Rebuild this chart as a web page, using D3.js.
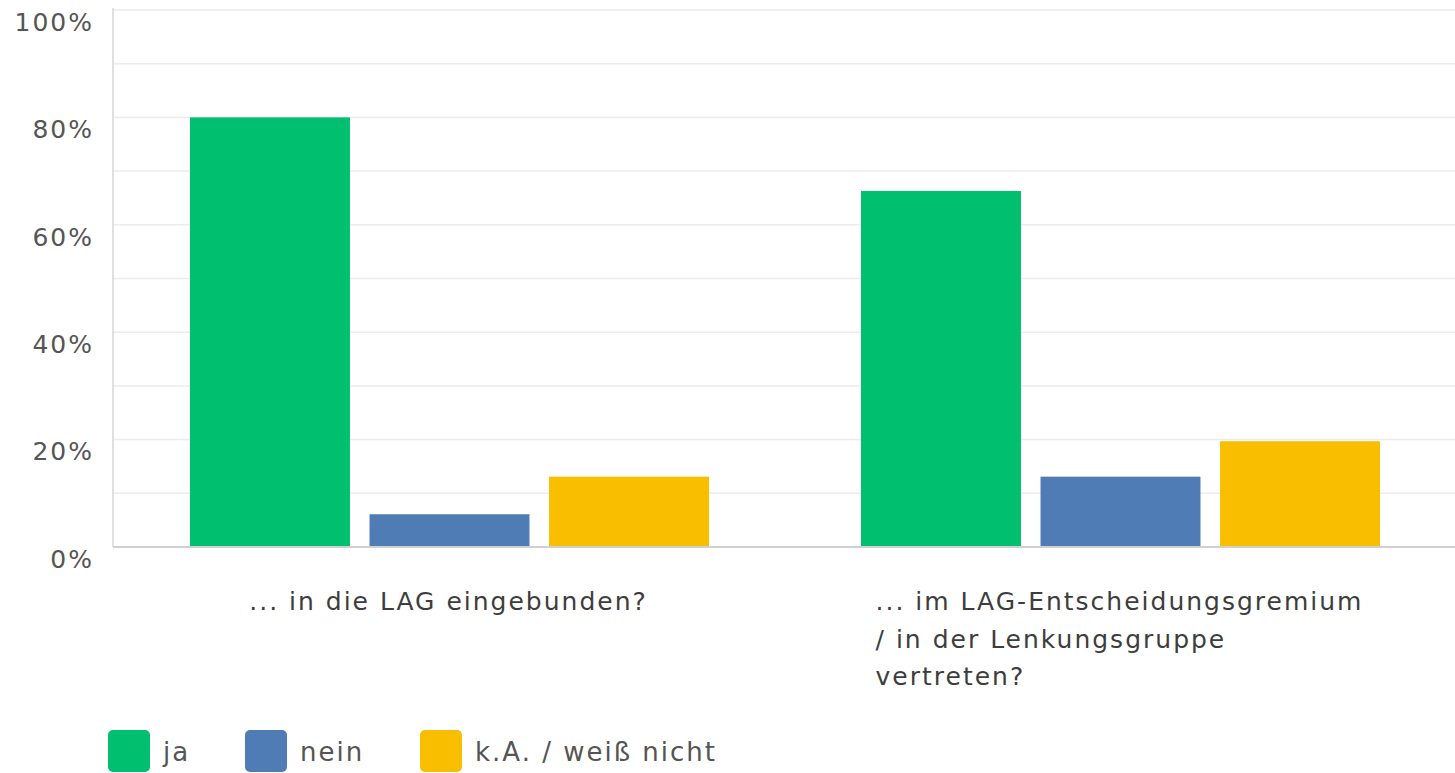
<!DOCTYPE html>
<html lang="de">
<head>
<meta charset="utf-8">
<title>LAG</title>
<script src="https://cdn.jsdelivr.net/npm/d3@7"></script>
<style>
  body { margin: 0; background: #fff; }
  text { font-family: "DejaVu Sans", sans-serif; letter-spacing: 2px; }
</style>
</head>
<body>
<svg width="1455" height="773"></svg>
<script>
var categories = [
  ["... in die LAG eingebunden?"],
  ["... im LAG-Entscheidungsgremium", "/ in der Lenkungsgruppe", "vertreten?"]
];
var series = ["ja", "nein", "k.A. / weiß nicht"];
var colors = ["#00bf6f", "#507cb6", "#f9be00"];
var ja = [80, 66.3];
var nein = [6.1, 13.1];
var ka = [13.1, 19.7];
var yTicks = [0, 20, 40, 60, 80, 100];

var values = [ja, nein, ka];
var svg = d3.select("svg"),
    margin = {top: 10, right: 0, bottom: 226, left: 113},
    width = +svg.attr("width") - margin.left - margin.right,
    height = +svg.attr("height") - margin.top - margin.bottom;

var x0 = d3.scaleBand().domain(d3.range(categories.length)).range([margin.left, margin.left + width]);
var x1 = d3.scaleBand().domain(d3.range(series.length)).range([77, 596]).paddingInner(0.109);
var y = d3.scaleLinear().domain([0, 100]).range([margin.top + height, margin.top]);

// grid every 10%
svg.append("g").selectAll("line")
  .data(d3.range(10, 101, 10))
  .enter().append("line")
    .attr("x1", margin.left).attr("x2", margin.left + width)
    .attr("y1", function(d) { return y(d); }).attr("y2", function(d) { return y(d); })
    .attr("stroke", "#ececec").attr("stroke-width", 1.5);

// y axis line
svg.append("line")
  .attr("x1", margin.left).attr("x2", margin.left)
  .attr("y1", y(100) - 2).attr("y2", y(0))
  .attr("stroke", "#d6d6d6").attr("stroke-width", 1.5);

svg.append("g").selectAll("text")
  .data(yTicks)
  .enter().append("text")
    .attr("x", 94)
    .attr("y", function(d) { return y(d) + 12; })
    .attr("dy", "0.35em")
    .attr("text-anchor", "end")
    .style("font-size", "25px")
    .style("fill", "#555")
    .text(function(d) { return d + "%"; });

// bars
var groups = svg.append("g").selectAll("g")
  .data(categories)
  .enter().append("g")
    .attr("transform", function(d, i) { return "translate(" + x0(i) + ",0)"; });

groups.selectAll("rect")
  .data(function(d, i) { return series.map(function(s, j) { return {j: j, v: values[j][i]}; }); })
  .enter().append("rect")
    .attr("x", function(d) { return x1(d.j); })
    .attr("y", function(d) { return y(d.v); })
    .attr("width", x1.bandwidth())
    .attr("height", function(d) { return y(0) - y(d.v); })
    .attr("fill", function(d) { return colors[d.j]; });

// baseline
svg.append("line")
  .attr("x1", margin.left).attr("x2", margin.left + width)
  .attr("y1", y(0)).attr("y2", y(0))
  .attr("stroke", "#d0d0d0").attr("stroke-width", 2);

// category labels: block centred, lines left aligned
groups.each(function(lines, i) {
  var g = d3.select(this);
  var t = g.append("text")
    .style("font-size", "25px")
    .style("fill", "#3d3d3d");
  lines.forEach(function(l, k) {
    t.append("tspan").attr("x", 0).attr("y", 610 + k * 37.5).text(l);
  });
  var w = t.node().getBBox().width;
  t.attr("transform", "translate(" + (x0.bandwidth() / 2 - w / 2) + ",0)");
});

// legend
var legX = [108, 245, 420];
var leg = svg.append("g").selectAll("g")
  .data(series)
  .enter().append("g")
    .attr("transform", function(d, i) { return "translate(" + legX[i] + ",730)"; });
leg.append("rect")
  .attr("width", 42).attr("height", 42).attr("rx", 5)
  .attr("fill", function(d, i) { return colors[i]; });
leg.append("text")
  .attr("x", 55).attr("y", 22).attr("dy", "0.35em")
  .style("font-size", "26px")
  .style("fill", "#555")
  .text(function(d) { return d; });
</script>
</body>
</html>
